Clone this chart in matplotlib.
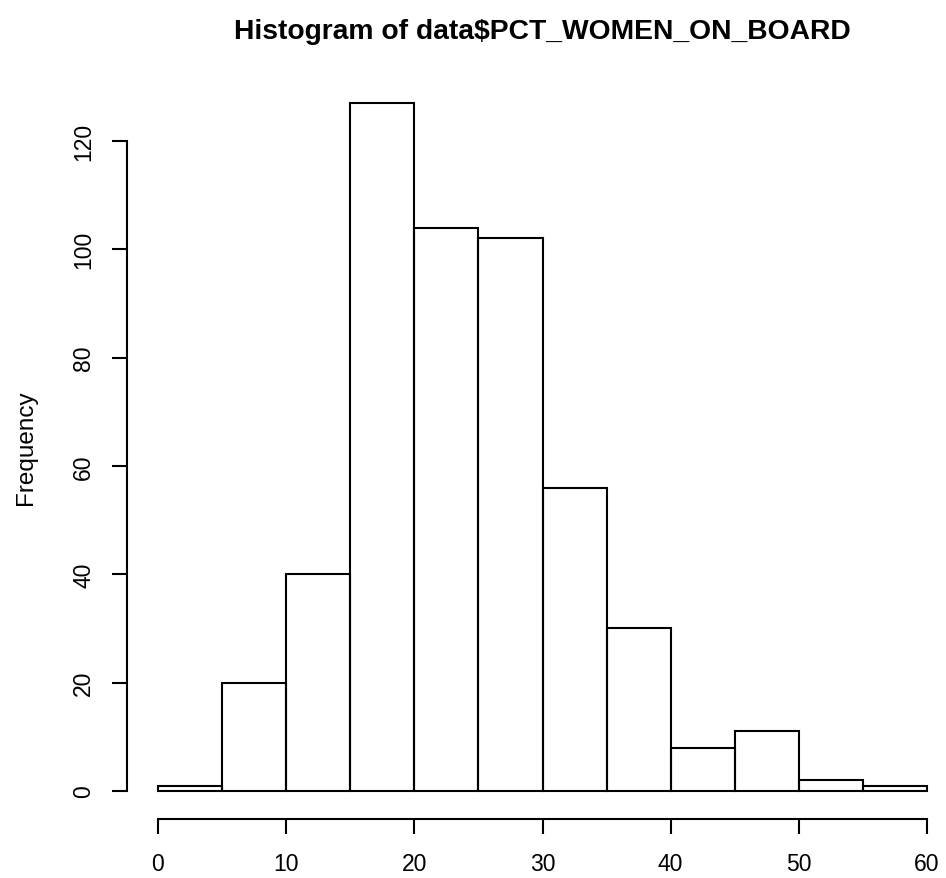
import numpy as np
import matplotlib
matplotlib.use("Agg")
import matplotlib.pyplot as plt

# bin edges and counts
breaks = [0, 5, 10, 15, 20, 25, 30, 35, 40, 45, 50, 55, 60]
counts = [1, 20, 40, 127, 104, 102, 56, 30, 8, 11, 2, 1]
xticks = [0, 10, 20, 30, 40, 50, 60]
yticks = [0, 20, 40, 60, 80, 100, 120]

plt.rcParams['font.family'] = ['Liberation Sans', 'DejaVu Sans']

W, H = 946, 879
fig = plt.figure(figsize=(W / 100, H / 100), dpi=100)

# R pads the range by 4% on each side
x0, x1 = breaks[0], breaks[-1]
ymax = max(counts)
xlim = (x0 - 0.04 * (x1 - x0), x1 + 0.04 * (x1 - x0))
ylim = (-0.04 * ymax, ymax * 1.04)

left_px, right_px = 127.2, 957.8
top_px, bot_px = 76.5, 819.5
ax = fig.add_axes([left_px / W, 1 - bot_px / H,
                   (right_px - left_px) / W, (bot_px - top_px) / H])
ax.set_xlim(*xlim)
ax.set_ylim(*ylim)

widths = np.diff(breaks)
ax.bar(breaks[:-1], counts, width=widths, align='edge', fill=False,
       edgecolor='black', linewidth=1.5)

for s in ['top', 'right']:
    ax.spines[s].set_visible(False)
ax.spines['left'].set_bounds(yticks[0], yticks[-1])
ax.spines['bottom'].set_bounds(xticks[0], xticks[-1])
for s in ['left', 'bottom']:
    ax.spines[s].set_linewidth(1.5)

ax.set_xticks(xticks)
ax.set_yticks(yticks)
ax.tick_params(axis='both', length=11, width=1.5, labelsize=16.5)
ax.tick_params(axis='x', pad=13)
ax.tick_params(axis='y', pad=12)
for lab in ax.get_yticklabels():
    lab.set_rotation(90)
    lab.set_va('center')

ax.set_ylabel('Frequency', fontsize=17.5)
ax.yaxis.set_label_coords(-(127.2 - 37) / (right_px - left_px), 0.5)

fig.text((left_px + right_px) / 2 / W, 1 - 32 / H,
         'Histogram of data$PCT_WOMEN_ON_BOARD',
         ha='center', va='center', fontsize=20.3, fontweight='bold')

fig.savefig('out.png', dpi=100)
